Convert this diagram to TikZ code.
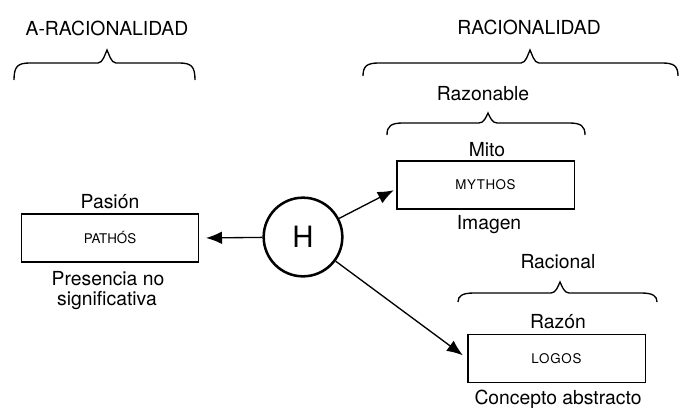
\documentclass[tikz,border=0pt]{standalone}
\usepackage{fontspec}
\setmainfont{TeX Gyre Heros}
\usetikzlibrary{arrows.meta}
\newcommand\drawbrace[6]{% x1, x2, xtip, yend, yhoriz, ytip
  \draw[bracestyle] (#1,#4) .. controls (#1,#5+3) and (#1+4,#5) .. (#1+16,#5)
    -- (#3-9,#5) .. controls (#3-4,#5) and (#3-2,#6+4) .. (#3,#6)
    .. controls (#3+2,#6+4) and (#3+4,#5) .. (#3+9,#5)
    -- (#2-16,#5) .. controls (#2-4,#5) and (#2,#5+3) .. (#2,#4);}
\begin{document}
\begin{tikzpicture}[x=0.75pt,y=-0.75pt,
  lbl/.style={font=\fontsize{14.5pt}{17pt}\selectfont, inner sep=0pt, anchor=base},
  wordbox/.style={draw, line width=1pt, minimum width=133pt, minimum height=36pt, inner sep=0pt, font=\fontsize{10pt}{12pt}\selectfont},
  conn/.style={line width=1pt, -{Latex[length=12pt,width=9.5pt]}},
  bracestyle/.style={line width=1pt},
  hnode/.style={circle, draw, line width=1.9pt, minimum size=59pt, inner sep=0pt, font=\fontsize{22pt}{26pt}\selectfont}]
\useasboundingbox (0,0) rectangle (680,407);

% headings and braces
\node[lbl] (arac) at (107,35) {A-RACIONALIDAD};
\drawbrace{14}{195}{107}{80}{63}{50}
\node[lbl] (rac) at (529,34) {RACIONALIDAD};
\drawbrace{363}{678}{530}{76}{63}{50}
\node[lbl] (razonable) at (483,100) {Razonable};
\drawbrace{387}{585}{488}{135}{123}{113}
\node[lbl] (racional) at (558,268) {Racional};
\drawbrace{458}{657}{560}{302}{293}{282}

% left: pathos
\node[lbl] (pasion) at (110,208) {Pasión};
\node[wordbox] (pathos) at (110,238) {PATHÓS};
\node[lbl] (pres1) at (108,285) {Presencia no};
\node[lbl] (pres2) at (107,305) {significativa};

% centre
\node[hnode] (h) at (303,237) {H};

% mythos
\node[lbl] (mito) at (487,156) {Mito};
\node[wordbox] (mythos) at (485.5,185) {\addfontfeature{LetterSpace=4}MYTHOS};
\node[lbl] (imagen) at (489,229) {Imagen};

% logos
\node[lbl] (razon) at (558,328) {Razón};
\node[wordbox] (logos) at (556.5,358.5) {\addfontfeature{LetterSpace=6}LOGOS};
\node[lbl] (concepto) at (558,404) {Concepto abstracto};

% connectors
\draw[conn, shorten >=5pt] (h) -- (pathos.east);
\draw[conn, shorten >=2pt] (h) -- ([yshift=-3pt]mythos.west);
\draw[conn, shorten >=4pt] (h) -- (logos.west);
\end{tikzpicture}
\end{document}
